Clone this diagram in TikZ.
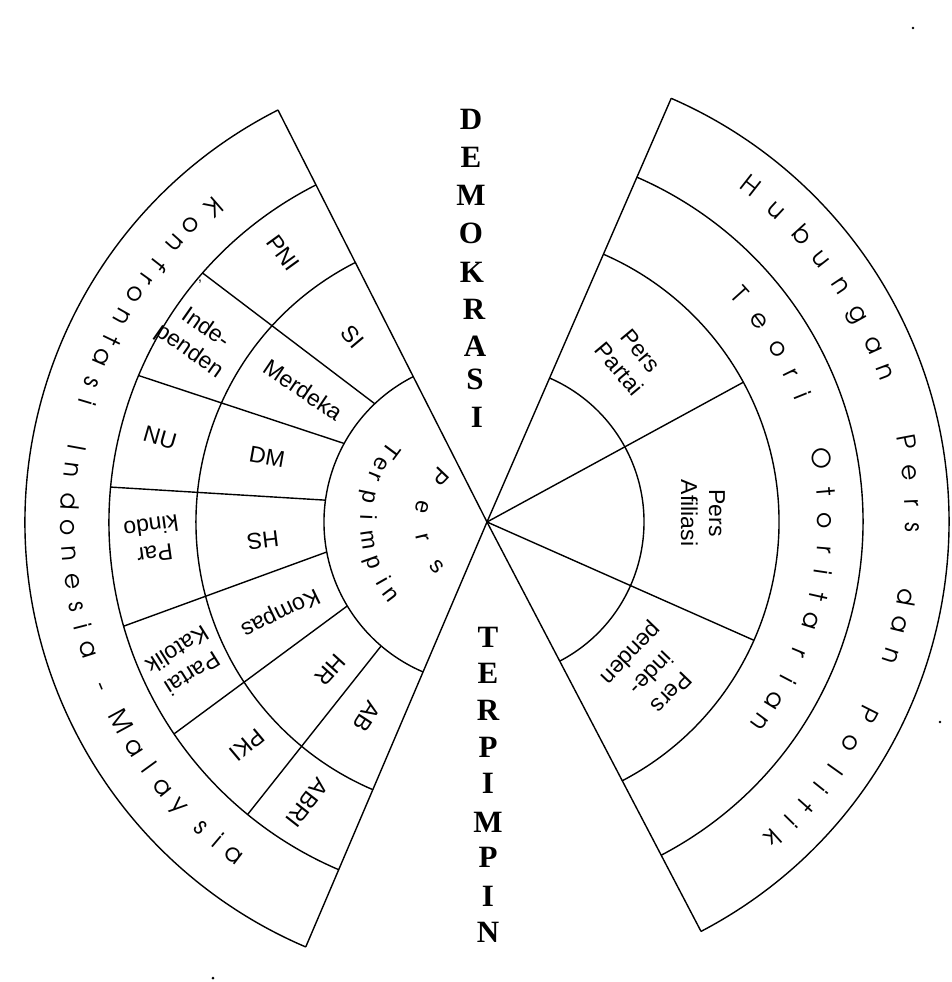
\documentclass[tikz,border=0pt]{standalone}
\usepackage{fontspec}
\setmainfont{Liberation Sans}
\newfontfamily\titlefont{Liberation Serif}
\newfontfamily\geofont{texgyreadventor-regular.otf}
\tikzset{
  ln/.style={line width=1.4pt, black},
  lab/.style={font=\fontsize{23}{28}\selectfont, align=center, inner sep=0pt},
  arcch/.style={font=\geofont\fontsize{25}{25}\selectfont, inner sep=0pt, text height=17pt, text depth=5pt},
  inch/.style={font=\fontsize{23}{23}\selectfont, inner sep=0pt, text height=16.5pt, text depth=4.6pt},
  ttl/.style={font=\titlefont\bfseries\fontsize{31}{31}\selectfont, inner sep=0pt, text height=20.5pt, text depth=0pt},
  speck/.style={fill=black, draw=none}
}
\begin{document}
\begin{tikzpicture}[x=1pt,y=1pt]
\useasboundingbox (-487,-460) rectangle (465,522);
\coordinate (O) at (0,0);
% ---------- left fan ----------
\coordinate (LU1) at (116.9:462); \coordinate (LL1) at (246.9:462);
\coordinate (LU2) at (116.9:378); \coordinate (LU3) at (116.9:291); \coordinate (LU4) at (116.9:163);
\draw[ln] (O) -- (LU1);
\draw[ln] (O) -- (LL1);
\draw[ln] (LU1) arc[start angle=116.9, end angle=246.9, radius=462];
\draw[ln] (LU2) arc[start angle=116.9, end angle=246.9, radius=378];
\draw[ln] (LU3) arc[start angle=116.9, end angle=246.9, radius=291];
\draw[ln] (LU4) arc[start angle=116.9, end angle=246.9, radius=163];
\foreach \p/\q [count=\i] in {138.8/133.5, 157.2/151.2, 174.7/172.3, 196/190.6, 214.1/211, 230.7/229.5}{
  \coordinate (la\i) at (\p:378); \coordinate (lb\i) at (\q:163);
  \draw[ln] (la\i) -- (lb\i);
}
% ---------- right fan ----------
\coordinate (RU1) at (66.5:462); \coordinate (RL1) at (-62.4:462);
\coordinate (RL2) at (-62.4:376); \coordinate (RL3) at (-62.4:292); \coordinate (RL4) at (-62.4:157);
\draw[ln] (O) -- (RU1);
\draw[ln] (O) -- (RL1);
\draw[ln] (RL1) arc[start angle=-62.4, end angle=66.5, radius=462];
\draw[ln] (RL2) arc[start angle=-62.4, end angle=66.5, radius=376];
\draw[ln] (RL3) arc[start angle=-62.4, end angle=66.5, radius=292];
\draw[ln] (RL4) arc[start angle=-62.4, end angle=66.5, radius=157];
\coordinate (RS1) at (28.6:292); \coordinate (RS2) at (-23.9:292);
\draw[ln] (O) -- (RS1);
\draw[ln] (O) -- (RS2);
% ---------- labels left ----------
\node[lab, rotate=-54] (pni) at (-204,269) {PNI};
\node[lab, rotate=-50] (si) at (-134,185) {SI};
\node[lab, rotate=-35] (indep) at (-290,182) {Inde-\\penden};
\node[lab, rotate=-34] (merdeka) at (-184,132) {Merdeka};
\node[lab, rotate=-16] (nu) at (-327,84) {NU};
\node[lab, rotate=-10] (dm) at (-220,65) {DM};
\node[lab, rotate=188] (parkindo) at (-334,-18) {Par\\kindo};
\node[lab, rotate=187] (hs) at (-224,-18) {HS};
\node[lab, rotate=212] (katolik) at (-302,-140) {Partai\\Katolik};
\node[lab, rotate=206] (kompas) at (-207,-90) {Kompas};
\node[lab, rotate=220] (pki) at (-240,-223) {PKI};
\node[lab, rotate=228] (hr) at (-157,-148) {HR};
\node[lab, rotate=237] (ab) at (-120,-195) {AB};
\node[lab, rotate=232] (abri) at (-180,-281) {ABRI};
% ---------- labels right ----------
\node[lab, rotate=-50] (ppartai) at (143,162) {Pers\\Partai};
\node[lab, rotate=-90] (pafil) at (216,9) {Pers\\Afiliasi};
\node[lab, rotate=-134] (pindep) at (163,-150) {Pers\\inde-\\penden};
% ---------- arc texts ----------
\foreach \a/\c [count=\i] in {131.0/K,135.0/o,138.3/n,141.9/f,144.5/r,147.1/o,150.7/n,154.2/t,156.8/a,160.6/s,163.3/i,169.7/I,172.9/n,177.2/d,180.8/o,184.3/n,188.2/e,191.7/s,194.5/i,197.7/a,203.1/-,208.5/M,212.7/a,216.0/l,219.3/a,222.7/y,226.9/s,229.8/i,232.7/a}{
  \node[arcch, rotate=\a+90] (kim\i) at (\a:420) {\c};
}
\foreach \a/\c [count=\i] in {51.9/H,47.2/u,42.3/b,38.2/u,33.8/n,29.2/g,24.5/a,20.7/n,10.8/P,6.6/e,2.6/r,-0.7/s,-10.2/d,-13.9/a,-18.4/n,-26.8/P,-31.4/o,-35.4/l,-38.6/i,-41.7/t,-44.5/i,-47.9/k}{
  \node[arcch, rotate=\a-90] (hpp\i) at (\a:424) {\c};
}
\foreach \a/\c [count=\i] in {42.0/T,36.5/e,30.7/o,26.0/r,21.9/i,10.7/O,5.0/t,0.3/o,-4.7/r,-8.5/i,-12.6/t,-17.0/a,-22.7/r,-27.7/i,-31.8/a,-36.2/n}{
  \node[arcch, rotate=\a-90] (to\i) at (\a:337) {\c};
}
\foreach \a/\c [count=\i] in {136.2/P,166.8/e,193.8/r,222.0/s}{
  \node[inch, rotate=\a+90] (pe\i) at (\a:67) {\c};
}
\foreach \a/\c [count=\i] in {143.4/T,151.1/e,157.8/r,168.1/p,177.6/i,188.5/m,199.6/p,209.7/i,217.1/n}{
  \node[inch, rotate=\a+90] (tp\i) at (\a:121) {\c};
}
% ---------- vertical titles ----------
\foreach \x/\y/\c [count=\i] in {-16/403/D,-16/365/E,-16/327/M,-16/289/O,-15/250/K,-13/213/R,-12/176/A,-12/143/S,-10/105/I}{
  \node[ttl] (dem\i) at (\x,\y) {\c};
}
\foreach \y/\c [count=\i] in {-115/T,-151/E,-188/R,-225/P,-261/I,-300/M,-335/P,-374/I,-410/N}{
  \node[ttl] (ter\i) at (1,\y) {\c};
}
% ---------- specks ----------
\node[inner sep=0pt, font=\fontsize{14}{14}\selectfont] (comma) at (-287,240) {,};
\fill[speck] (426,494) circle (1.3);
\fill[speck] (453,-200) circle (1.3);
\fill[speck] (-274,-456) circle (1.5);
\end{tikzpicture}
\end{document}
